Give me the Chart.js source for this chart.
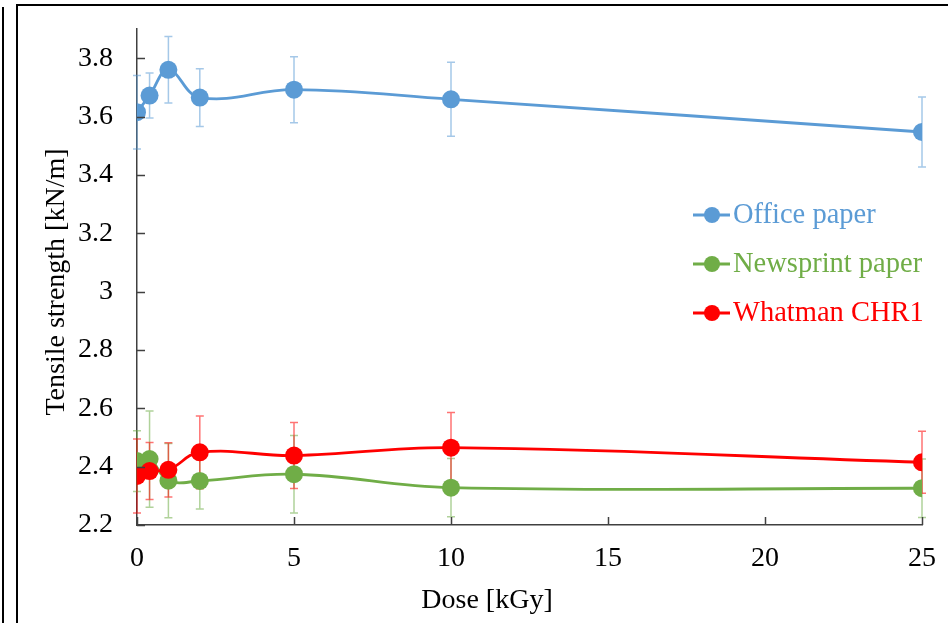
<!DOCTYPE html>
<html>
<head>
<meta charset="utf-8">
<script src="https://cdn.jsdelivr.net/npm/chart.js@4"></script>
<style>
  html, body { margin: 0; padding: 0; background: #fff; }
  #wrap { position: relative; width: 948px; height: 623px; overflow: hidden; }
  #chart { position: absolute; left: 0; top: 0; }
  .edge { position: absolute; background: #000; pointer-events: none; }
</style>
</head>
<body>
<div id="wrap">
  <canvas id="chart" width="948" height="623"></canvas>
  <div class="edge" style="left:2px;top:7px;width:2px;height:616px;"></div>
  <div class="edge" style="left:16px;top:4px;width:2px;height:619px;"></div>
  <div class="edge" style="left:16px;top:4px;width:932px;height:2px;"></div>
</div>
<script>
var doses = [0, 0.4, 1, 2, 5, 10, 25];
var officePaper = [3.615, 3.672, 3.760, 3.665, 3.692, 3.659, 3.547];
var officeErr = [0.126, 0.077, 0.114, 0.099, 0.113, 0.127, 0.120];
var newsprintPaper = [2.419, 2.426, 2.352, 2.351, 2.374, 2.328, 2.326];
var newsprintErr = [0.104, 0.165, 0.127, 0.096, 0.133, 0.100, 0.100];
var whatmanChr1 = [2.368, 2.385, 2.389, 2.449, 2.438, 2.465, 2.415];
var whatmanErr = [0.127, 0.098, 0.093, 0.125, 0.113, 0.121, 0.106];
var xTicks = [0, 5, 10, 15, 20, 25];
var yTicks = [2.2, 2.4, 2.6, 2.8, 3, 3.2, 3.4, 3.6, 3.8];

var serif = "'Liberation Serif', 'Times New Roman', serif";
var axisColor = '#404040';

function points(ys) {
    return doses.map(function(d, i) { return { x: d, y: ys[i] }; });
}

function series(label, ys, errs, color, order) {
    return {
        label: label,
        data: points(ys),
        errors: errs,
        borderColor: color,
        backgroundColor: color,
        pointBackgroundColor: color,
        pointBorderWidth: 0,
        pointRadius: 9,
        borderWidth: 2.8,
        tension: 0.4,
        order: order
    };
}

// error bars drawn under the lines and markers
var errorBars = {
    id: 'errorBars',
    beforeDatasetsDraw: function(chart) {
        var ctx = chart.ctx, xs = chart.scales.x, ys = chart.scales.y;
        ctx.save();
        chart.data.datasets.forEach(function(ds) {
            ctx.strokeStyle = ds.borderColor;
            ctx.globalAlpha = 0.55;
            ctx.lineWidth = 1.5;
            ds.data.forEach(function(p, i) {
                var px = xs.getPixelForValue(p.x);
                var top = ys.getPixelForValue(p.y + ds.errors[i]);
                var bot = ys.getPixelForValue(p.y - ds.errors[i]);
                ctx.beginPath();
                ctx.moveTo(px, top); ctx.lineTo(px, bot);
                ctx.moveTo(px - 4, top); ctx.lineTo(px + 4, top);
                ctx.moveTo(px - 4, bot); ctx.lineTo(px + 4, bot);
                ctx.stroke();
            });
        });
        ctx.restore();
    }
};

// inward tick marks, legend and axis titles
var decorations = {
    id: 'decorations',
    afterDraw: function(chart) {
        var ctx = chart.ctx, xs = chart.scales.x, ys = chart.scales.y;
        var area = chart.chartArea;
        ctx.save();
        ctx.strokeStyle = axisColor;
        ctx.lineWidth = 1.5;
        ctx.beginPath();
        yTicks.forEach(function(v) {
            var py = Math.round(ys.getPixelForValue(v)) + 0.5;
            ctx.moveTo(area.left, py); ctx.lineTo(area.left + 8, py);
        });
        xTicks.forEach(function(v) {
            var px = Math.round(xs.getPixelForValue(v)) + 0.5;
            ctx.moveTo(px, area.bottom); ctx.lineTo(px, area.bottom - 8);
        });
        ctx.stroke();

        // legend
        ctx.font = '28.5px ' + serif;
        ctx.textBaseline = 'middle';
        ctx.textAlign = 'left';
        chart.data.datasets.forEach(function(ds, i) {
            var y = 215 + i * 49;
            ctx.strokeStyle = ds.borderColor;
            ctx.fillStyle = ds.borderColor;
            ctx.lineWidth = 2.8;
            ctx.beginPath();
            ctx.moveTo(693, y); ctx.lineTo(730, y);
            ctx.stroke();
            ctx.beginPath();
            ctx.arc(712, y, 8, 0, Math.PI * 2);
            ctx.fill();
            ctx.fillText(ds.label, 733, y + 1);
        });

        // axis titles
        ctx.font = '28px ' + serif;
        ctx.fillStyle = '#000';
        ctx.textAlign = 'center';
        ctx.fillText('Dose [kGy]', 487, 601);
        ctx.translate(57, 282);
        ctx.rotate(-Math.PI / 2);
        ctx.fillText('Tensile strength [kN/m]', 0, 0);
        ctx.restore();
    }
};

new Chart(document.getElementById('chart'), {
    type: 'line',
    data: {
        datasets: [
            series('Office paper', officePaper, officeErr, '#5B9BD5', 2),
            series('Newsprint paper', newsprintPaper, newsprintErr, '#70AD47', 1),
            series('Whatman CHR1', whatmanChr1, whatmanErr, '#FF0000', 0)
        ]
    },
    options: {
        responsive: false,
        animation: false,
        layout: { padding: { left: 0, top: 29, right: 26, bottom: 0 } },
        plugins: {
            legend: { display: false },
            tooltip: { enabled: false }
        },
        scales: {
            x: {
                type: 'linear',
                min: 0,
                max: 25,
                afterBuildTicks: function(scale) {
                    scale.ticks = xTicks.map(function(v) { return { value: v }; });
                },
                afterFit: function(scale) {
                    scale.height = 98;
                    scale.paddingLeft = 0;
                    scale.paddingRight = 0;
                },
                grid: { display: true, drawOnChartArea: false, drawTicks: false },
                border: { color: axisColor, width: 1.5 },
                ticks: {
                    padding: 17,
                    maxRotation: 0,
                    color: '#000',
                    font: { family: serif, size: 28 }
                }
            },
            y: {
                type: 'linear',
                min: 2.2,
                max: 3.9,
                afterBuildTicks: function(scale) {
                    scale.ticks = yTicks.map(function(v) { return { value: v }; });
                },
                afterFit: function(scale) {
                    scale.width = 137;
                    scale.paddingTop = 0;
                    scale.paddingBottom = 0;
                },
                grid: { display: true, drawOnChartArea: false, drawTicks: false },
                border: { color: axisColor, width: 1.5 },
                ticks: {
                    padding: 24,
                    color: '#000',
                    font: { family: serif, size: 28 },
                    callback: function(v) { return String(Math.round(v * 10) / 10); }
                }
            }
        }
    },
    plugins: [errorBars, decorations]
});
</script>
</body>
</html>
